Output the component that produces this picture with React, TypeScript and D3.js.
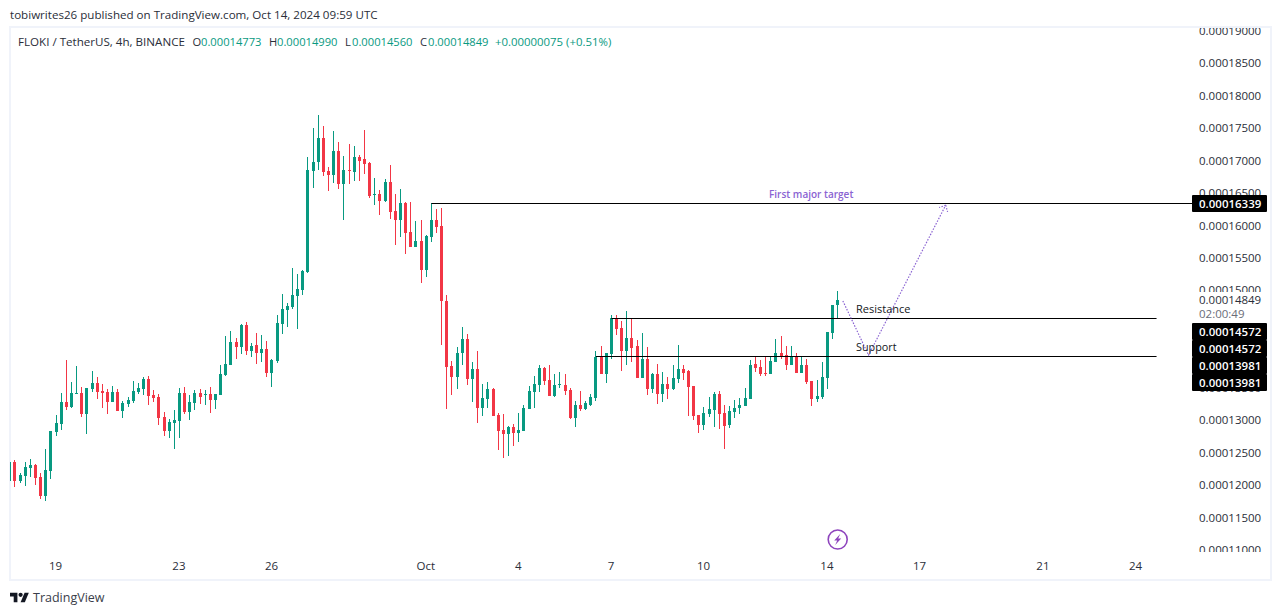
import { useEffect, useRef } from 'react'
import * as d3 from 'd3'

const W = 1281
const H = 615
const FONT = '"Open Sans", "Noto Sans", sans-serif'
const UP = '#089981'
const DOWN = '#F23645'
const PURPLE = '#8A63D2'
const INK = '#2A2E39'
const FRAME = '#F0F3FA'

// prices are in units of 1e-8, index 0 is the candle cut off by the left edge
const opens = [12058,12351,12058,12135,12258,12304,12120,11827,12212,12813,12936,13275,13198,13399,13414,13090,13476,13568,13445,13429,13275,13429,13137,13244,13291,13429,13476,13630,13383,13352,13044,12828,12952,12983,13414,13121,13260,13414,13383,13399,13306,13383,13691,13845,14200,14123,14462,14061,14154,14030,14092,13722,13907,14477,14693,14739,14909,15001,15279,16835,16974,17343,16835,16773,17143,16635,16850,16819,17051,17020,16958,16465,16480,16372,16665,16218,16080,16342,15895,15664,15756,15309,15818,16080,15987,14832,13830,13661,14030,14246,13630,13784,13183,13321,13476,13075,12844,12782,12890,12798,12828,13167,13429,13537,13799,13614,13368,13537,13537,13460,13029,13229,13167,13229,13337,13969,13707,14015,14570,14416,14061,14261,14138,13645,13938,13476,13707,13399,13553,13476,13630,13784,13753,13522,13075,12921,13090,13152,13399,13106,12921,13121,13183,13214,13321,13861,13815,13722,13707,13892,14030,14000,13845,13969,13722,13845,13599,13321,13352,13645,14339,14773]
const highs = [12351,12381,12181,12351,12397,12320,12181,12551,12828,13075,13414,13922,13583,13830,13506,13491,13753,13661,13553,13476,13522,13476,13291,13352,13599,13568,13661,13676,13460,13399,13121,13013,13152,13491,13506,13383,13460,13476,13460,13506,13399,13845,14292,14369,14261,14477,14508,14184,14339,14308,14215,13938,14616,14940,14801,15340,15248,15309,17051,17498,17698,17528,16896,17451,17282,17066,17251,17220,17081,17467,16974,16727,16542,16712,16927,16480,16557,16357,16357,16064,16080,15849,16342,16249,16265,14924,13907,14123,14431,14323,13892,14061,13553,13583,13491,13106,13090,12905,12936,13106,13229,13522,13676,13845,13815,13845,13707,13738,13707,13491,13291,13445,13291,13399,14061,14138,14030,14616,14616,14523,14678,14570,14231,14339,14123,13722,13861,13738,13661,13845,14154,13845,13768,13522,13075,13198,13352,13429,13445,13229,13214,13306,13337,13491,13922,13969,13922,13969,13969,14246,14292,14138,14138,14030,13969,13938,13599,13614,13892,14354,14770,14990]
const lows = [12043,11965,12027,11981,12120,11996,11780,11749,12089,12751,12844,13152,13183,13399,13044,12782,13429,13321,13183,13090,13275,13137,13029,13198,13260,13399,13383,13229,13275,12921,12751,12720,12551,12720,13090,12998,13152,13244,13229,13106,13167,13383,13676,13845,13938,14015,14000,13969,13861,13892,13661,13506,13876,14323,14431,14708,14400,14924,15263,16573,16850,16758,16527,16650,16557,16080,16635,16681,16681,16789,16419,16311,16157,16357,16095,15695,15818,15556,15664,15664,15109,15202,15741,15880,14154,13167,13383,13476,13845,13537,13275,12952,13060,13183,13060,12535,12412,12443,12597,12659,12828,13167,13183,13429,13537,13368,13352,13491,13383,13013,12890,13137,13152,13214,13291,13707,13568,13938,14308,13753,13845,13892,13645,13645,13383,13414,13244,13275,13321,13460,13568,13614,13060,12998,12798,12844,13044,12890,12859,12551,12875,13029,13090,13214,13321,13738,13676,13676,13707,13892,13938,13768,13845,13722,13722,13553,13214,13275,13321,13476,14246,14560]
const closes = [12351,12058,12150,12274,12304,12104,11827,12227,12828,12952,13275,13198,13414,13414,13090,13491,13568,13429,13414,13275,13429,13137,13260,13306,13445,13491,13630,13368,13337,13029,12828,12967,12998,13414,13121,13275,13414,13352,13399,13306,13399,13707,13861,14200,14123,14462,14061,14138,14030,14092,13722,13922,14493,14708,14755,14924,15017,15294,16850,16974,17343,16819,16773,17143,16635,16850,16835,17051,16989,16943,16450,16480,16372,16665,16203,16080,16342,15880,15664,15756,15309,15833,16080,15972,14832,13815,13661,14030,14246,13630,13784,13183,13337,13476,13060,12828,12782,12890,12798,12844,13183,13445,13553,13799,13599,13368,13537,13553,13445,13029,13229,13167,13260,13352,13969,13707,14030,14570,14400,14061,14261,14107,13645,13938,13476,13707,13399,13553,13476,13645,13784,13722,13506,13060,12921,13106,13167,13399,13090,12905,13137,13183,13229,13337,13845,13799,13707,13707,13907,14030,13984,13845,13969,13722,13845,13583,13321,13368,13661,14354,14770,14849]

// 14500 and 14000 sit fully behind the black tags, so they are left out
const priceTicks = [19000,18500,18000,17500,17000,16500,16000,15500,15000,13500,13000,12500,12000,11500,11000]
const dayIndex = [9,33,51,81,99,117,135,159,177,201,219]
const dayLabels = ['19','23','26','Oct','4','7','10','14','17','21','24']

// horizontal levels: price, candle they start from, candle they run to
const levelPrices = [16339,14572,13981]
const levelStart = [82,117,114]
const levelEnd = [230,223,223]

// dotted projection drawn after the last candle
const projIndex = [162,167,182]
const projPrice = [14836,14000,16311]

const lastPrice = 14849
const countdown = '02:00:49'
const stackedPrices = [14572,14572,13981,13981]

function fmt(p: number) {
  return (p / 1e8).toFixed(8)
}

export default function App() {
  const ref = useRef<SVGSVGElement>(null)

  useEffect(() => {
    const svg = d3.select(ref.current!)
    svg.selectAll('*').remove()

    const x = d3.scaleLinear().domain([0, 161]).range([9.72, 837.7])
    const y = d3.scaleLinear().domain([19000, 11000]).range([30.7, 549.8])

    const defs = svg.append('defs')
    defs.append('clipPath').attr('id', 'pane').append('rect').attr('x', 10).attr('y', 28).attr('width', 1180).attr('height', 524)
    defs.append('clipPath').attr('id', 'scale').append('rect').attr('x', 1190).attr('y', 28).attr('width', 80).attr('height', 524)

    svg.append('rect').attr('width', W).attr('height', H).attr('fill', '#fff')

    // frame round the chart
    svg.append('rect').attr('x', 10).attr('y', 27).attr('width', 1261).attr('height', 553)
      .attr('fill', 'none').attr('stroke', FRAME).attr('stroke-width', 2)

    svg.append('text').attr('x', 10).attr('y', 19).attr('font-size', 11.6).attr('fill', INK)
      .text('tobiwrites26 published on TradingView.com, Oct 14, 2024 09:59 UTC')

    // legend line
    const legend = svg.append('g')
    const legendParts: [number, string, string][] = [
      [18, 'FLOKI / TetherUS, 4h, BINANCE', INK],
      [192.5, 'O', INK], [201, fmt(opens[161]), UP],
      [269, 'H', INK], [277, fmt(highs[161]), UP],
      [345, 'L', INK], [352, fmt(lows[161]), UP],
      [420, 'C', INK], [428, fmt(closes[161]), UP],
      [495, '+0.00000075 (+0.51%)', UP],
    ]
    legendParts.forEach(([px, s, c], i) => {
      legend.append('text').attr('x', px).attr('y', 46).attr('fill', c)
        .attr('font-size', i === 0 ? 11.6 : i === 9 ? 11.4 : 11.2).text(s)
    })

    // candles
    const idx = d3.range(opens.length)
    const px = (i: number) => Math.floor(x(i))
    const candles = svg.append('g').attr('clip-path', 'url(#pane)')
    candles.selectAll('rect.wick').data(idx).join('rect').attr('class', 'wick')
      .attr('x', i => px(i))
      .attr('y', i => Math.round(y(highs[i])))
      .attr('width', 1)
      .attr('height', i => Math.round(y(lows[i])) - Math.round(y(highs[i])))
      .attr('fill', i => (closes[i] >= opens[i] ? UP : DOWN))
    candles.selectAll('rect.body').data(idx).join('rect').attr('class', 'body')
      .attr('x', i => px(i) - 1)
      .attr('y', i => Math.round(y(Math.max(opens[i], closes[i]))))
      .attr('width', 3)
      .attr('height', i => Math.max(1, Math.round(y(Math.min(opens[i], closes[i]))) - Math.round(y(Math.max(opens[i], closes[i])))))
      .attr('fill', i => (closes[i] >= opens[i] ? UP : DOWN))

    // level lines
    levelPrices.forEach((p, i) => {
      svg.append('line')
        .attr('x1', x(levelStart[i])).attr('x2', x(levelEnd[i]))
        .attr('y1', Math.round(y(p)) + 0.5).attr('y2', Math.round(y(p)) + 0.5)
        .attr('stroke', '#000').attr('stroke-width', 1)
    })

    // projection path and its arrow head
    const pts = projIndex.map((n, i) => [x(n), y(projPrice[i])] as [number, number])
    svg.append('path').attr('d', d3.line()(pts)!).attr('fill', 'none')
      .attr('stroke', PURPLE).attr('stroke-width', 1.2).attr('stroke-dasharray', '1.5 1.5')
    const tip = pts[2]
    const ang = Math.atan2(pts[1][1] - tip[1], pts[1][0] - tip[0])
    const head = [ang - 0.75, ang + 0.75].map(a => [tip, [tip[0] + 7 * Math.cos(a), tip[1] + 7 * Math.sin(a)]] as [number, number][])
    head.forEach(seg => {
      svg.append('path').attr('d', d3.line()(seg)!).attr('fill', 'none')
        .attr('stroke', PURPLE).attr('stroke-width', 1.2).attr('stroke-dasharray', '1.5 1.5')
    })

    svg.append('text').attr('x', 769).attr('y', 198).attr('font-size', 10).attr('font-weight', 600)
      .attr('fill', PURPLE).text('First major target')
    svg.append('text').attr('x', 856).attr('y', 313).attr('font-size', 11).attr('fill', '#131722').text('Resistance')
    svg.append('text').attr('x', 856).attr('y', 351).attr('font-size', 10.8).attr('fill', '#131722').text('Support')

    // price scale
    const yAxis = d3.axisRight(y).tickValues(priceTicks).tickSize(0).tickPadding(0).tickFormat(d => fmt(+d))
    const priceG = svg.append('g').attr('clip-path', 'url(#scale)')
      .append('g').attr('transform', 'translate(1199,0)').call(yAxis)
    priceG.select('.domain').remove()
    priceG.selectAll('text').attr('font-size', 11.5).attr('font-family', FONT).attr('fill', INK)

    // current price block
    svg.append('rect').attr('x', 1192).attr('y', 292).attr('width', 75).attr('height', 30).attr('fill', '#fff')
    svg.append('text').attr('x', 1199).attr('y', 304).attr('font-size', 11.5).attr('fill', INK).text(fmt(lastPrice))
    svg.append('text').attr('x', 1199).attr('y', 318).attr('font-size', 11.5).attr('fill', '#6A6D78').text(countdown)

    // black price tags
    const tag = (top: number, p: number) => {
      svg.append('rect').attr('x', 1192).attr('y', top).attr('width', 75).attr('height', 17).attr('rx', 1).attr('fill', '#000')
      svg.append('text').attr('x', 1199).attr('y', top + 12.5).attr('font-size', 11.5).attr('font-weight', 600).attr('fill', '#fff').text(fmt(p))
    }
    tag(195, levelPrices[0])
    stackedPrices.forEach((p, i) => tag(323 + i * 17, p))

    // time scale
    const dayTicks = d3.axisBottom(x).tickValues(dayIndex).tickSize(0).tickPadding(0).tickFormat((_, i) => dayLabels[i])
    const timeG = svg.append('g').attr('transform', 'translate(-1,562)').call(dayTicks)
    timeG.select('.domain').remove()
    timeG.selectAll('text').attr('font-size', 11.5).attr('font-family', FONT).attr('fill', INK)

    // lightning badge above the time scale
    const badge = svg.append('g').attr('transform', `translate(${x(161)},539.5)`)
    badge.append('circle').attr('r', 9.5).attr('fill', '#fff').attr('stroke', '#8E44BD').attr('stroke-width', 1.6)
    badge.append('path').attr('d', 'M2.5,-5.5 L-3.5,1 L-0.5,1 L-2.5,5.5 L3.5,-1 L0.5,-1 Z').attr('fill', '#8E44BD')

    // footer logo
    const logo = svg.append('g').attr('transform', 'translate(10,590.6) scale(0.53)').attr('fill', '#131722')
    logo.append('path').attr('d', 'M14 22H7V11H0V4h14v18z')
    logo.append('circle').attr('cx', 20).attr('cy', 8).attr('r', 4)
    logo.append('path').attr('d', 'M28 22h-8l7.5-18h8L28 22z')
    svg.append('text').attr('x', 33).attr('y', 602).attr('font-size', 12.5).attr('fill', '#3A3E4A').text('TradingView')
  }, [])

  return (
    <svg
      ref={ref}
      width={W}
      height={H}
      fontFamily={FONT}
      style={{ position: 'absolute', left: 0, top: 0, display: 'block' }}
    />
  )
}
